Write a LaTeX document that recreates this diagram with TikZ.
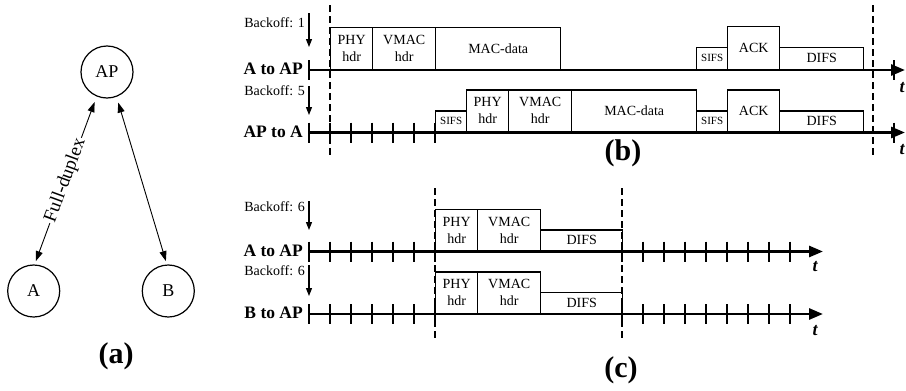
\documentclass[tikz,border=0pt]{standalone}
\usepackage{fontspec}
\setmainfont{Liberation Serif}
\usetikzlibrary{arrows.meta}
\tikzset{
  circ/.style={draw, circle, line width=1.2pt, minimum size=52pt, inner sep=0pt, font=\fontsize{18}{20}\selectfont},
  dup/.style={line width=0.9pt, {Triangle[length=10pt,width=7pt]}-{Triangle[length=10pt,width=7pt]}, shorten >=3.5pt, shorten <=6pt},
  timebox/.style={draw, line width=1.4pt, inner sep=0pt, anchor=south west, align=center, font=\fontsize{14}{17}\selectfont},
  sifsbox/.style={timebox, font=\fontsize{11}{13}\selectfont},
  timeaxis/.style={line width=2.8pt, -{Triangle[length=14pt,width=11pt]}},
  tickmark/.style={line width=1.3pt},
  slotline/.style={line width=1.1pt, dash pattern=on 7pt off 4pt},
  backoffarrow/.style={line width=1.1pt, -{Triangle[length=8pt,width=6pt]}},
  backofftext/.style={anchor=east, inner sep=0pt, font=\fontsize{14}{16}\selectfont},
  rowlabel/.style={anchor=east, inner sep=0pt, font=\bfseries\fontsize{17.5}{20}\selectfont},
  tlabel/.style={inner sep=0pt, font=\bfseries\itshape\fontsize{18}{20}\selectfont},
  caption/.style={inner sep=0pt, font=\bfseries\fontsize{30}{32}\selectfont}
}
\begin{document}
\begin{tikzpicture}[x=1pt,y=-1pt]
\useasboundingbox (0,0) rectangle (906,391);

% ---------------- (a) ----------------
\node[circ] (AP) at (107,72) {AP};
\node[circ] (A) at (33.7,291) {A};
\node[circ] (B) at (168.3,291) {B};
\draw[dup] (AP.247) -- node[pos=0.5, rotate=69.8, fill=white, inner sep=1pt, font=\fontsize{19}{21}\selectfont] (fdlabel) {Full-duplex} (A.88);
\draw[dup] (AP.291) -- (B.93);
\node[caption] (capa) at (116,356) {(a)};

% ---------------- (b) ----------------
\coordinate (b1s) at (309,70);
\coordinate (b1e) at (905,70);
\coordinate (b2s) at (309,132.5);
\coordinate (b2e) at (905,132.5);
\coordinate (bd1t) at (330,5);
\coordinate (bd1b) at (330,155);
\coordinate (bd2t) at (873,5);
\coordinate (bd2b) at (873,155);

% row 1 boxes
\node[timebox, minimum width=42pt, minimum height=42pt] (r1phy) at (330,70) {PHY\\hdr};
\node[timebox, minimum width=63pt, minimum height=42pt] (r1vmac) at (372,70) {VMAC\\hdr};
\node[timebox, minimum width=125pt, minimum height=42pt] (r1mac) at (435,70) {MAC-data};
\node[sifsbox, minimum width=31pt, minimum height=22pt] (r1sifs) at (696,70) {SIFS};
\node[timebox, minimum width=52pt, minimum height=43pt] (r1ack) at (727,70) {ACK};
\node[timebox, minimum width=84pt, minimum height=22pt] (r1difs) at (779,70) {DIFS};

% row 2 boxes
\node[sifsbox, minimum width=31pt, minimum height=21pt] (r2sifsa) at (435,132.5) {SIFS};
\node[timebox, minimum width=42pt, minimum height=42pt] (r2phy) at (466,132.5) {PHY\\hdr};
\node[timebox, minimum width=63pt, minimum height=42pt] (r2vmac) at (508,132.5) {VMAC\\hdr};
\node[timebox, minimum width=125pt, minimum height=42pt] (r2mac) at (571,132.5) {MAC-data};
\node[sifsbox, minimum width=31pt, minimum height=21pt] (r2sifsb) at (696,132.5) {SIFS};
\node[timebox, minimum width=52pt, minimum height=42pt] (r2ack) at (727,132.5) {ACK};
\node[timebox, minimum width=84pt, minimum height=21pt] (r2difs) at (779,132.5) {DIFS};

\draw[timeaxis] (b1s) -- (b1e);
\draw[timeaxis] (b2s) -- (b2e);
\foreach \x in {309,894} \draw[tickmark] (\x,60) -- (\x,80);
\foreach \x in {309,330,351,372,393,414,435,894} \draw[tickmark] (\x,122.5) -- (\x,142.5);
\draw[slotline] (bd1t) -- (bd1b);
\draw[slotline] (bd2t) -- (bd2b);

\node[rowlabel] (lab1) at (303,69) {A to AP};
\node[rowlabel] (lab2) at (303,131.5) {AP to A};
\node[backofftext] (bo1) at (305,22.5) {Backoff: 1};
\node[backofftext] (bo2) at (305,91) {Backoff: 5};
\coordinate (bo1t) at (309,13);
\coordinate (bo1b) at (309,47);
\coordinate (bo2t) at (309,86);
\coordinate (bo2b) at (309,115);
\draw[backoffarrow] (bo1t) -- (bo1b);
\draw[backoffarrow] (bo2t) -- (bo2b);
\node[tlabel] (t1) at (902,88) {t};
\node[tlabel] (t2) at (902,150) {t};
\node[caption] (capb) at (623,153) {(b)};

% ---------------- (c) ----------------
\coordinate (c1s) at (309,251.5);
\coordinate (c1e) at (823,251.5);
\coordinate (c2s) at (309,314);
\coordinate (c2e) at (823,314);
\coordinate (cd1t) at (435,188);
\coordinate (cd1b) at (435,340);
\coordinate (cd2t) at (622,188);
\coordinate (cd2b) at (622,338);

\node[timebox, minimum width=42pt, minimum height=41.5pt] (c1phy) at (435,251.5) {PHY\\hdr};
\node[timebox, minimum width=63pt, minimum height=41.5pt] (c1vmac) at (477,251.5) {VMAC\\hdr};
\node[timebox, minimum width=82pt, minimum height=21pt] (c1difs) at (540,251.5) {DIFS};
\node[timebox, minimum width=42pt, minimum height=41.5pt] (c2phy) at (435,314) {PHY\\hdr};
\node[timebox, minimum width=63pt, minimum height=41.5pt] (c2vmac) at (477,314) {VMAC\\hdr};
\node[timebox, minimum width=82pt, minimum height=21pt] (c2difs) at (540,314) {DIFS};

\draw[timeaxis] (c1s) -- (c1e);
\draw[timeaxis] (c2s) -- (c2e);
\foreach \x in {309,330,351,372,393,414,435,622,643,664,685,706,727,748,769,790} {
  \draw[tickmark] (\x,241.5) -- (\x,261.5);
  \draw[tickmark] (\x,304) -- (\x,324);
}
\draw[slotline] (cd1t) -- (cd1b);
\draw[slotline] (cd2t) -- (cd2b);

\node[rowlabel] (lab3) at (303,250.5) {A to AP};
\node[rowlabel] (lab4) at (303,313) {B to AP};
\node[backofftext] (bo3) at (305,207) {Backoff: 6};
\node[backofftext] (bo4) at (305,271) {Backoff: 6};
\coordinate (bo3t) at (309,201);
\coordinate (bo3b) at (309,230);
\coordinate (bo4t) at (309,265);
\coordinate (bo4b) at (309,296);
\draw[backoffarrow] (bo3t) -- (bo3b);
\draw[backoffarrow] (bo4t) -- (bo4b);
\node[tlabel] (t3) at (815,267) {t};
\node[tlabel] (t4) at (815,331) {t};
\node[caption] (capc) at (621,370) {(c)};
\end{tikzpicture}
\end{document}
